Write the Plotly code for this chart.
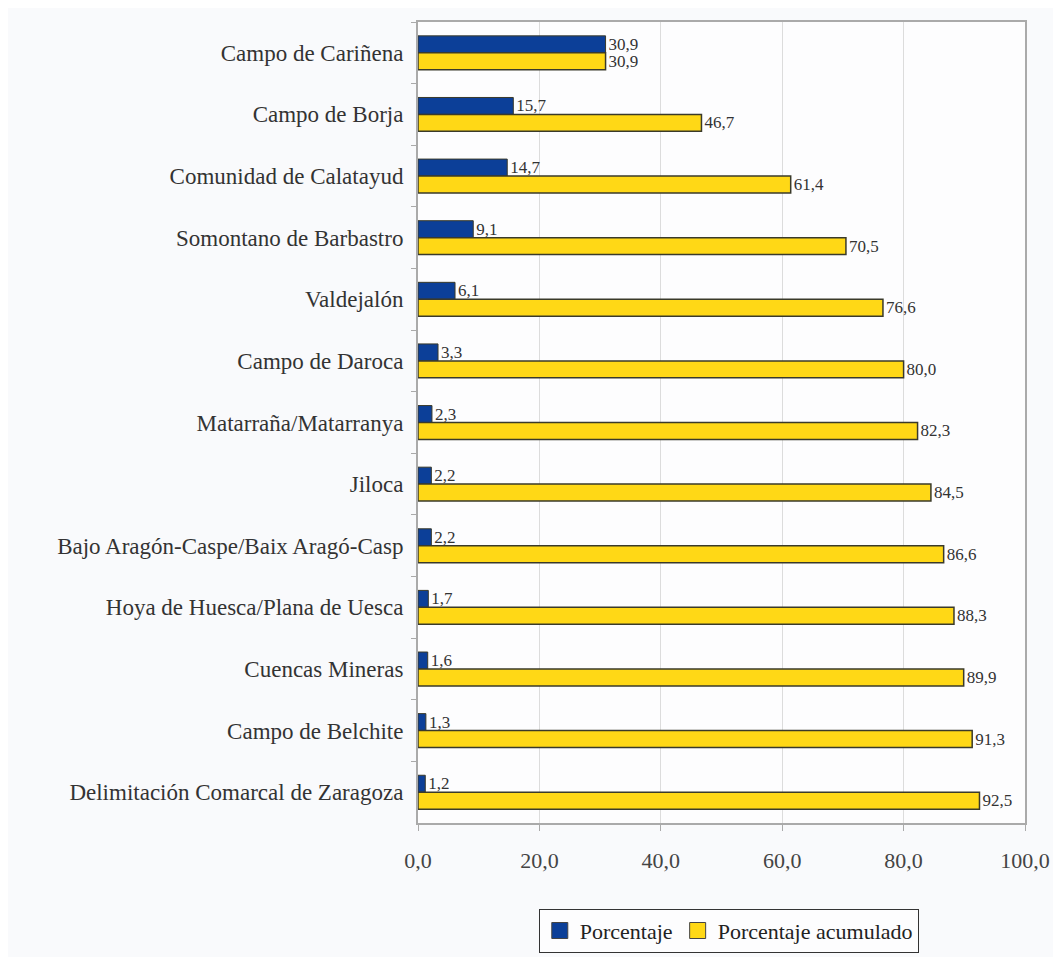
import plotly.graph_objects as go

comarcas = [
    "Campo de Cariñena",
    "Campo de Borja",
    "Comunidad de Calatayud",
    "Somontano de Barbastro",
    "Valdejalón",
    "Campo de Daroca",
    "Matarraña/Matarranya",
    "Jiloca",
    "Bajo Aragón-Caspe/Baix Aragó-Casp",
    "Hoya de Huesca/Plana de Uesca",
    "Cuencas Mineras",
    "Campo de Belchite",
    "Delimitación Comarcal de Zaragoza",
]
porcentaje = [30.9, 15.7, 14.7, 9.1, 6.1, 3.3, 2.3, 2.2, 2.2, 1.7, 1.6, 1.3, 1.2]
porcentaje_acumulado = [30.9, 46.7, 61.4, 70.5, 76.6, 80.0, 82.3, 84.5, 86.6, 88.3, 89.9, 91.3, 92.5]

FONT = "Liberation Serif, Times New Roman, serif"
BLUE = "#0c3f98"
YELLOW = "#ffd816"
OUTLINE = "#3a3a2a"

fig = go.Figure()
fig.add_trace(go.Bar(
    y=comarcas, x=porcentaje, orientation="h", name="Porcentaje", showlegend=False,
    marker=dict(color=BLUE, line=dict(color=OUTLINE, width=1)),
    texttemplate="%{x:.1f}", textposition="outside", constraintext="none",
    textfont=dict(family=FONT, size=17, color="#333333"), cliponaxis=False,
))
fig.add_trace(go.Bar(
    y=comarcas, x=porcentaje_acumulado, orientation="h", name="Porcentaje acumulado", showlegend=False,
    marker=dict(color=YELLOW, line=dict(color=OUTLINE, width=1.5)),
    texttemplate="%{x:.1f}", textposition="outside", constraintext="none",
    textfont=dict(family=FONT, size=17, color="#333333"), cliponaxis=False,
))
# legend entries with larger square swatches
for name, color in [("Porcentaje", BLUE), ("Porcentaje acumulado", YELLOW)]:
    fig.add_trace(go.Scatter(
        x=[None], y=[None], mode="markers", name=name,
        marker=dict(symbol="square", size=18, color=color, line=dict(color="#444444", width=1)),
    ))

fig.update_layout(
    width=1061, height=957,
    barmode="group", bargap=0.45, bargroupgap=0,
    separators=",.",
    paper_bgcolor="#f9fafc", plot_bgcolor="#fdfdfe",
    margin=dict(l=410, r=44, t=14, b=119),
    font=dict(family=FONT, color="#333333"),
    legend=dict(
        orientation="h", x=0.512, xanchor="center", y=-0.107, yanchor="top",
        bordercolor="#333333", borderwidth=1, bgcolor="#fdfdfe",
        font=dict(family=FONT, size=22, color="#222222"),
        itemwidth=30, traceorder="normal", itemsizing="trace",
    ),
)
fig.update_xaxes(
    range=[0, 100], dtick=20, tickformat=".1f",
    showgrid=True, gridcolor="#dcdcdc", gridwidth=1,
    showline=True, linecolor="#aaaaaa", linewidth=2, mirror=True,
    ticks="outside", ticklen=6, tickcolor="#aaaaaa",
    ticklabelstandoff=11,
    tickfont=dict(family=FONT, size=22, color="#444444"),
    zeroline=False,
)
fig.update_yaxes(
    autorange="reversed",
    showline=True, linecolor="#aaaaaa", linewidth=2, mirror=True,
    ticks="outside", ticklen=5, tickcolor="#aaaaaa", tickson="boundaries",
    showgrid=False,
    ticklabelstandoff=8,
    tickfont=dict(family=FONT, size=23, color="#333333"),
)

fig.write_html("out.html")
